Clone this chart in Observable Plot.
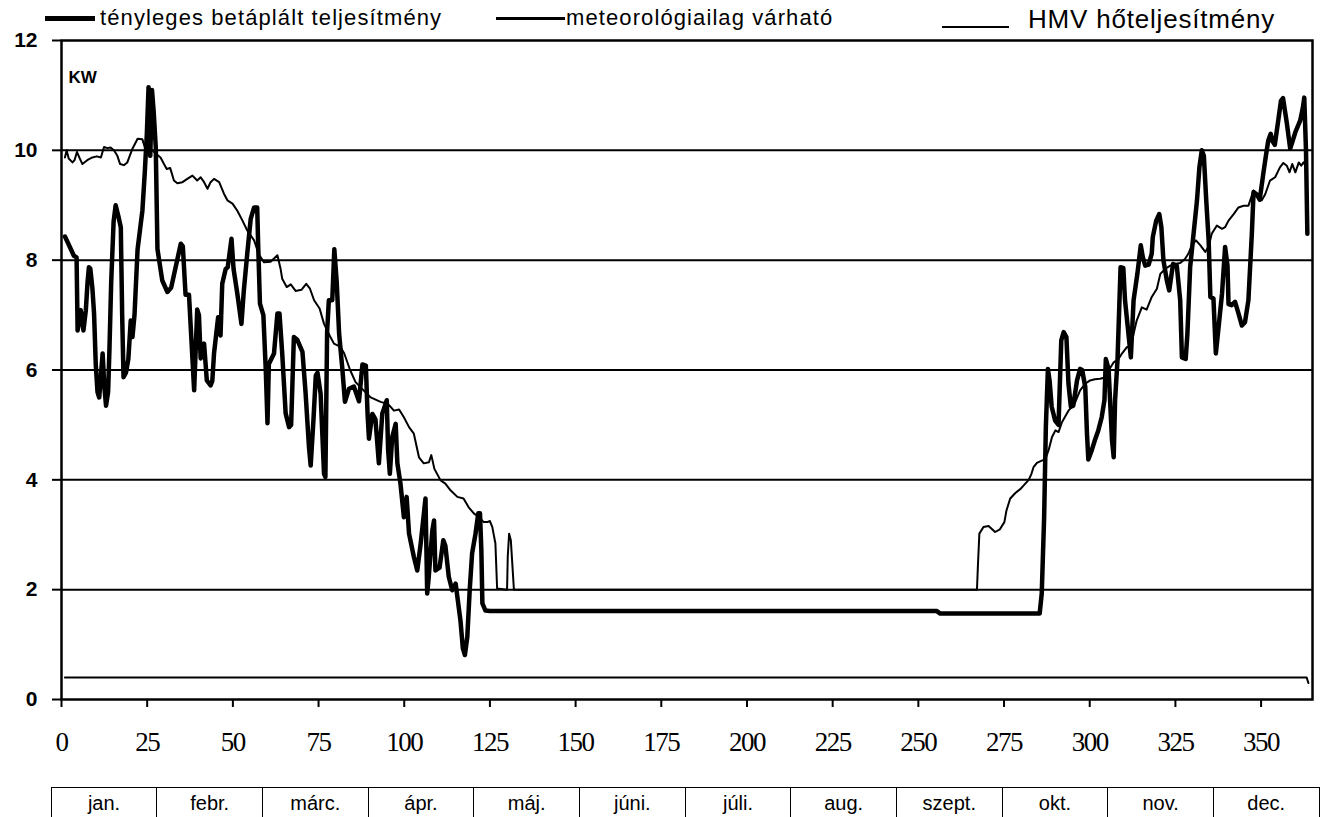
<!DOCTYPE html>
<html><head><meta charset="utf-8">
<script src="https://cdn.jsdelivr.net/npm/d3@7"></script>
<script src="https://cdn.jsdelivr.net/npm/@observablehq/plot@0.6"></script>
<style>
body{margin:0;background:#fff;width:1322px;height:817px;overflow:hidden;position:relative;font-family:Arial,"Liberation Sans",sans-serif;}
#legend{position:absolute;left:0;top:0;width:1322px;height:30px;}
.sw{position:absolute;background:#000;}
.lt{position:absolute;white-space:nowrap;color:#000;line-height:24px;}
#chart{position:absolute;left:0;top:30px;}
#months{position:absolute;left:50.7px;top:787px;width:1269px;height:40px;display:flex;border-left:1.5px solid #000;border-top:1.5px solid #000;box-sizing:border-box;}
#months div{flex:0 0 105.67px;box-sizing:border-box;border-right:1.5px solid #000;text-align:center;font-size:20px;line-height:30px;color:#000;}
g[aria-label="y-axis tick label"] text{font-family:Arial,"Liberation Sans",sans-serif;font-weight:bold;font-size:21px;}
g[aria-label="x-axis tick label"] text{font-family:"Liberation Serif","Times New Roman",serif;font-size:27px;letter-spacing:-1.5px;}
</style></head>
<body>
<div id="legend"></div>
<div id="chart"></div>
<div id="months"></div>
<script>
// ---- data ----
const seriesNames = ["tényleges betáplált teljesítmény", "meteorológiailag várható", "HMV hőteljesítmény"];
const monthLabels = ["jan.","febr.","márc.","ápr.","máj.","júni.","júli.","aug.","szept.","okt.","nov.","dec."];
const xTicks = [0,25,50,75,100,125,150,175,200,225,250,275,300,325,350];
const yTicks = [0,2,4,6,8,10,12];
const gridValues = [2,4,6,8,10];

const actualDays = [1,2,3.6,4.4,4.7,5.6,6.4,7.1,7.6,8.0,8.4,9.0,9.5,10,10.5,11,11.5,12,12.5,13,13.6,14,14.5,15.2,15.8,16.6,17.3,17.7,18.1,18.8,19.5,20.2,20.7,21.3,22.2,23.6,24.3,24.9,25.4,25.9,26.4,26.9,27.5,28,29.4,30.9,32,33.3,34.8,35.4,36.2,37.2,38.7,39.6,40.1,40.6,41.6,42.4,43.5,44.0,44.5,45.7,46.4,46.9,47.9,48.5,49.6,50.2,51.3,52.5,53.2,54.2,55.2,56.2,57.1,57.4,57.9,58.9,59.6,60.1,60.5,62,63,63.6,64.4,65.4,66.4,67,67.8,68.8,70.3,71.2,72.2,72.7,73.5,74.2,74.7,75.6,76.6,77,77.5,78,79,79.6,80.3,81,81.9,82.7,83.9,85.3,86.8,87.8,88.8,89.3,89.7,90.7,91.6,92.6,93.6,94.1,94.9,95.3,95.8,96.5,97.5,98,98.9,99.9,100.7,101.4,102.8,103.8,104.8,106.2,106.7,107.1,108.2,108.7,109.1,110.3,111.4,112,113,114,115,115.5,116.4,117.1,117.7,118.4,119.1,119.8,120.8,121.6,122.1,122.5,122.8,123.7,125,255.4,256.4,285.4,286,286.7,287.2,287.8,288.3,288.9,289.9,290.9,291.7,292.4,293.2,293.8,294.5,295.2,296.3,297.2,297.8,298.7,299.2,299.6,300.6,301.5,302.5,303.5,304.3,304.7,305.5,306.5,307,307.4,308.1,309,309.8,310.3,311.3,312,312.8,313.9,314.9,315.5,316.2,317.2,318.1,318.4,319.4,320.3,320.9,321.5,322.5,323.2,324.3,325.4,326.4,326.9,328,328.5,329.3,330.1,331.3,332,332.7,333.3,334,334.7,335.2,336.1,336.8,337.4,338.6,339.5,340.2,340.5,341.4,342.4,343.4,344.4,345.3,346.3,347.3,347.8,348.7,349.6,350.7,351.5,352.1,352.8,353.3,354,355,355.8,356.4,357.5,358.5,360,361.4,362.2,362.6,363.1,363.5];
const actualValues = [8.43,8.3,8.08,8.05,6.72,7.09,6.72,7.09,7.6,7.87,7.85,7.5,7.03,6.1,5.6,5.5,5.9,6.3,5.7,5.35,5.6,6.4,7.6,8.7,9.0,8.8,8.6,7.0,5.87,5.95,6.2,6.9,6.6,7.0,8.2,8.9,9.6,10.3,11.15,9.9,11.1,10.7,10.06,8.2,7.63,7.42,7.5,7.87,8.3,8.25,7.37,7.37,5.63,7.1,7.0,6.21,6.48,5.81,5.72,5.8,6.3,6.96,6.63,7.57,7.84,7.87,8.39,7.84,7.39,6.84,7.45,8.12,8.75,8.96,8.96,8.24,7.21,7.0,6.0,5.03,6.11,6.3,7.03,7.03,6.3,5.21,4.96,5.0,6.6,6.55,6.33,5.6,4.6,4.26,5.08,5.9,5.95,5.57,4.11,4.05,6.7,7.27,7.27,8.2,7.6,6.66,6.05,5.42,5.66,5.7,5.43,6.1,6.08,5.2,4.75,5.2,5.1,4.3,5.21,5.3,5.45,4.54,4.11,4.78,5.02,4.3,3.93,3.32,3.69,3.02,2.6,2.35,2.84,3.66,1.93,2.2,3.08,3.26,2.35,2.4,2.9,2.8,2.23,1.99,2.11,1.87,1.44,0.93,0.81,1.14,1.99,2.66,3.02,3.39,3.39,2.72,1.75,1.62,1.61,1.61,1.565,1.565,1.93,3.32,4.96,6.02,5.8,5.33,5.08,5.0,6.54,6.69,6.6,5.75,5.33,5.35,5.81,6.02,6.0,5.69,4.84,4.37,4.54,4.72,4.9,5.14,5.45,6.2,6.02,4.72,4.41,5.45,6.17,7.87,7.86,7.27,6.66,6.23,7.27,7.75,8.27,8.05,7.9,7.92,8.12,8.42,8.72,8.84,8.6,8.0,7.63,7.45,7.93,7.9,7.27,6.23,6.2,6.66,7.87,8.36,9.09,9.69,10.0,9.9,9.09,8.36,7.33,7.3,6.3,6.66,7.39,8.24,7.9,7.2,7.18,7.24,7.03,6.81,6.87,7.27,8.48,9.24,9.2,9.1,9.6,9.94,10.18,10.3,10.17,10.1,10.54,10.9,10.95,10.5,10.03,10.33,10.54,10.78,10.96,10.0,8.48];

const meteoDays = [1,1.5,2.1,3.2,3.8,4.5,5.2,6.1,7.5,9,10.3,11.5,12.4,13.4,14.3,15.3,16.3,17.1,18.2,19.2,20.7,22.2,23.6,24.6,25.5,26.5,27.5,28.9,29.9,30.7,31.7,32.8,33.8,35.3,36.7,38.2,39.6,40.6,41.6,42.6,43.5,44.5,46,47.4,48.4,49.9,51.3,52.8,54.2,56.2,57.6,59.1,61,63,63.9,64.4,65.7,66.9,68.3,70,71.4,72.5,73.7,75.3,76.6,78.3,79.5,81.4,82.5,84.2,85.8,87.5,90.2,93.1,95.3,97,98.5,99.9,101.4,102.8,104.3,105.7,107.2,107.9,108.8,110.6,112,113.5,115.5,117.3,118.8,120.3,121.8,123.2,124.2,125,125.7,126.6,127.1,130,130.2,130.6,131.1,132,267.1,267.4,267.8,269,270.5,272.4,273.8,275.1,275.7,276.8,278.3,279.9,281.2,282.2,283,283.6,284.6,286,287,288,289,290,290.9,291.9,292.8,293.8,294.8,295.8,297.2,298.7,300.1,301.5,303,304.2,305.5,307,308.4,309.4,310.9,311.9,312.8,313.7,315.2,316.6,318.1,319.6,320.6,322,323.5,324.9,326.4,327.8,328.8,329.8,331,332.3,333.7,334.7,335.6,337.1,338.6,339.5,340.5,342,343.4,344.9,346.3,347.8,349.2,350.2,351.2,352.6,354.1,355.5,356.5,357.5,358.3,359.1,360,361,361.7,362.4,363.3];
const meteoValues = [9.87,10.0,9.85,9.78,9.82,9.97,9.87,9.75,9.82,9.87,9.89,9.87,10.06,10.04,10.05,10.0,9.9,9.75,9.73,9.78,10.03,10.21,10.2,10.0,9.95,10.0,9.94,9.87,9.75,9.66,9.68,9.45,9.4,9.42,9.48,9.54,9.45,9.51,9.42,9.3,9.42,9.48,9.42,9.21,9.09,9.03,8.9,8.72,8.54,8.36,8.1,7.96,7.97,8.09,7.85,7.66,7.51,7.56,7.44,7.46,7.57,7.48,7.27,7.12,6.84,6.62,6.48,6.42,6.3,6.0,5.78,5.67,5.5,5.42,5.38,5.26,5.28,5.14,4.96,4.84,4.41,4.3,4.32,4.45,4.2,3.99,3.93,3.81,3.69,3.66,3.5,3.39,3.32,3.23,3.23,3.25,3.14,2.84,2.02,2.0,2.6,3.02,2.9,2.0,2.0,2.47,3.02,3.14,3.16,3.05,3.1,3.23,3.44,3.66,3.76,3.84,3.93,4.0,4.11,4.23,4.31,4.35,4.37,4.54,4.78,4.9,4.87,5.05,5.15,5.26,5.33,5.42,5.63,5.75,5.81,5.83,5.84,5.86,5.99,6.14,6.2,6.3,6.42,6.4,6.66,6.9,7.14,7.1,7.33,7.48,7.75,7.84,7.9,7.93,7.95,8.02,8.12,8.27,8.36,8.27,8.15,8.25,8.48,8.63,8.57,8.6,8.72,8.84,8.96,8.99,8.99,9.27,9.18,9.09,9.2,9.45,9.51,9.69,9.77,9.72,9.6,9.75,9.6,9.78,9.72,9.78,9.69];

const hmvDays = [1, 363.3, 363.8];
const hmvValues = [0.4, 0.4, 0.3];

// ---- tables ----
const toRows = (days, vals) => days.map((d, i) => ({day: d, v: vals[i]}));
const actual = toRows(actualDays, actualValues);
const meteo = toRows(meteoDays, meteoValues);
const hmv = toRows(hmvDays, hmvValues);

// ---- legend ----
const legend = document.getElementById("legend");
const legendSpec = [
  {sw:{left:45,top:16,width:50,height:5}, text:{left:100,top:6,size:22,ls:1.1}},
  {sw:{left:496,top:17,width:69,height:3}, text:{left:566,top:6,size:22,ls:1.1}},
  {sw:{left:942,top:26,width:67,height:1.5}, text:{left:1028,top:7,size:26,ls:0.8}}
];
legendSpec.forEach((s, i) => {
  const sw = document.createElement("div");
  sw.className = "sw";
  Object.assign(sw.style, {left:s.sw.left+"px", top:s.sw.top+"px", width:s.sw.width+"px", height:s.sw.height+"px"});
  legend.appendChild(sw);
  const t = document.createElement("div");
  t.className = "lt";
  t.textContent = seriesNames[i];
  Object.assign(t.style, {left:s.text.left+"px", top:s.text.top+"px", fontSize:s.text.size+"px", letterSpacing:s.text.ls+"px"});
  legend.appendChild(t);
});

// ---- month table ----
const months = document.getElementById("months");
monthLabels.forEach(m => { const c = document.createElement("div"); c.textContent = m; months.appendChild(c); });

// ---- chart ----
const chart = Plot.plot({
  width: 1322,
  height: 730,
  marginLeft: 61,
  marginRight: 10,
  marginTop: 10,
  marginBottom: 61,
  x: {domain: [0, 365]},
  y: {domain: [0, 12]},
  style: {background: "transparent", color: "#000", overflow: "visible"},
  marks: [
    Plot.ruleY(gridValues, {stroke: "#000", strokeWidth: 2}),
    Plot.line(hmv, {x: "day", y: "v", stroke: "#000", strokeWidth: 2}),
    Plot.line(meteo, {x: "day", y: "v", stroke: "#000", strokeWidth: 2, strokeLinejoin: "round"}),
    Plot.line(actual, {x: "day", y: "v", stroke: "#000", strokeWidth: 4.5, strokeLinejoin: "round", strokeLinecap: "round"}),
    Plot.frame({stroke: "#000", strokeWidth: 2.5}),
    Plot.axisY({ticks: yTicks, tickSize: 9, tickPadding: 15, strokeWidth: 2, label: null, tickFormat: d => String(d)}),
    Plot.axisX({ticks: xTicks, tickSize: 8, tickPadding: 24, strokeWidth: 2, label: null, tickFormat: d => String(d)}),
    Plot.text(["KW"], {text: d => d, frameAnchor: "top-left", dx: 7, dy: 30, textAnchor: "start", fontSize: 17, fontWeight: "bold", fontFamily: "Arial, Liberation Sans, sans-serif"})
  ]
});
document.getElementById("chart").appendChild(chart);
</script>
</body></html>
